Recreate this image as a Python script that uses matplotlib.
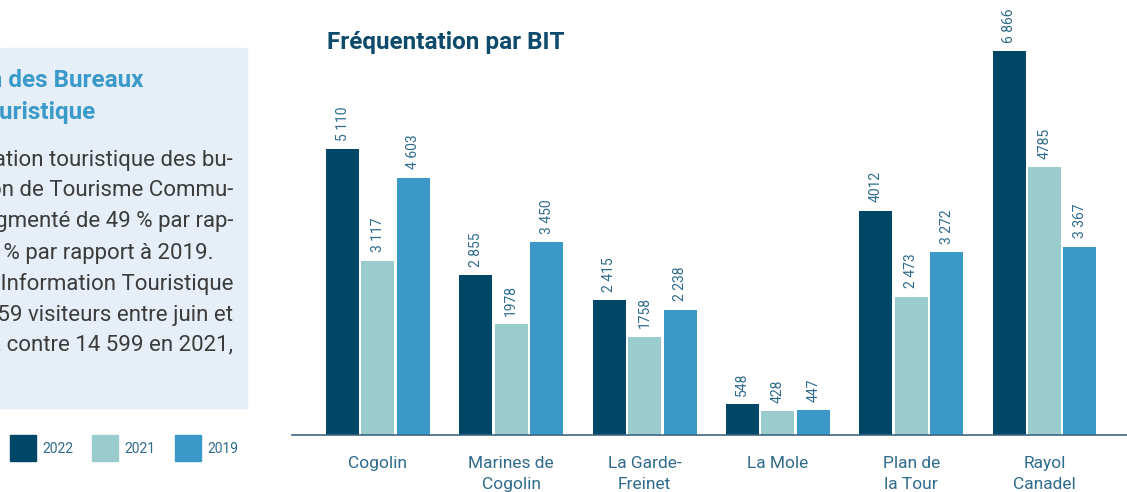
import numpy as np
import matplotlib.pyplot as plt
from matplotlib.patches import Rectangle

plt.rcParams['font.family'] = ['Roboto', 'DejaVu Sans']

categories = ["Cogolin", "Marines de\nCogolin", "La Garde-\nFreinet", "La Mole", "Plan de\nla Tour", "Rayol\nCanadel"]
years = ["2022", "2021", "2019"]
v2022 = [5110, 2855, 2415, 548, 4012, 6866]
v2021 = [3117, 1978, 1758, 428, 2473, 4785]
v2019 = [4603, 3450, 2238, 447, 3272, 3367]
lab2022 = ["5 110", "2 855", "2 415", "548", "4012", "6 866"]
lab2021 = ["3 117", "1978", "1758", "428", "2 473", "4785"]
lab2019 = ["4 603", "3 450", "2 238", "447", "3 272", "3 367"]

colors = ["#004666", "#9ACCCD", "#3A99C8"]
label_col = "#2F6B8C"

W, H = 1127, 492
fig = plt.figure(figsize=(W / 100, H / 100), dpi=100)

# left text panel (cropped in the original)
fig.patches.append(Rectangle((0, 1 - 408 / H), 247 / W, (408 - 48) / H,
                             transform=fig.transFigure, color="#E6EEF8", zorder=0))
fig.text(143 / W, 1 - 81 / H, "Fréquentation des Bureaux", ha="right", va="center",
         fontsize=17.5, fontweight="bold", color="#3A9AC9")
fig.text(95 / W, 1 - 113 / H, "d'Information Touristique", ha="right", va="center",
         fontsize=17.5, fontweight="bold", color="#3A9AC9")
body = ["La fréquentation touristique des bu-",
        "reaux d'Information de Tourisme Commu-",
        "nautaires a augmenté de 49 % par rap-",
        "port à 2021 et de 26 % par rapport à 2019.",
        "Les Bureaux d'Information Touristique",
        "ont accueilli 21 859 visiteurs entre juin et",
        "septembre 2022, contre 14 599 en 2021,"]
right_x = [233, 233, 233, 213, 233, 233, 233]
for i, line in enumerate(body):
    fig.text(right_x[i] / W, 1 - (160 + 31 * i) / H, line, ha="right", va="center",
             fontsize=16, color="#3C3C3C")

# legend
for i, y in enumerate(years):
    x0 = [10, 92, 175][i]
    fig.patches.append(Rectangle((x0 / W, 1 - 461 / H), 26 / W, 26 / H,
                                 transform=fig.transFigure, color=colors[i]))
    fig.text((x0 + 32) / W, 1 - 449 / H, y, ha="left", va="center",
             fontsize=10, color=label_col)

# chart
ax = fig.add_axes([292 / W, 1 - 435 / H, 835 / W, 435 / H])
ax.set_xlim(-0.645, 5.619)
ax.set_ylim(0, 7778)
x = np.arange(len(categories))
bw = 0.2475
off = 0.266
for vals, labs, c, d in [(v2022, lab2022, colors[0], -off),
                         (v2021, lab2021, colors[1], 0),
                         (v2019, lab2019, colors[2], off)]:
    ax.bar(x + d, vals, width=bw, color=c)
    for xi, v, t in zip(x + d, vals, labs):
        ax.text(xi, v + 150, t, rotation=90, ha="center", va="bottom",
                fontsize=10, color=label_col)

for s in ["top", "right", "left"]:
    ax.spines[s].set_visible(False)
ax.spines["bottom"].set_color("#3E6680")
ax.spines["bottom"].set_linewidth(1.2)
ax.set_yticks([])
ax.set_xticks(x)
ax.set_xticklabels(categories, fontsize=12.5, color=label_col, linespacing=1.5)
ax.tick_params(axis="x", length=0, pad=15)

fig.text(327 / W, 1 - 43 / H, "Fréquentation par BIT", ha="left", va="center",
         fontsize=17.5, fontweight="bold", color="#0D4A6B")

fig.savefig("out.png", dpi=100)
